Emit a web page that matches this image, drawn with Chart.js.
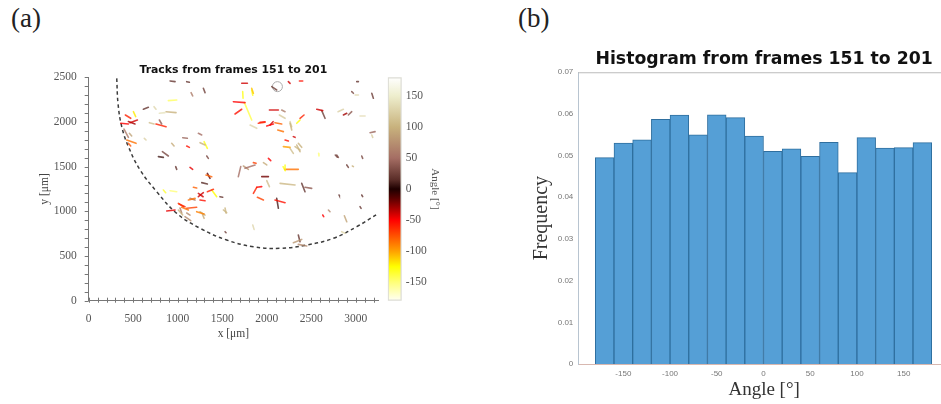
<!DOCTYPE html>
<html>
<head>
<meta charset="utf-8">
<script src="https://cdn.jsdelivr.net/npm/chart.js@4"></script>
<style>
  html, body { margin: 0; padding: 0; width: 941px; height: 404px; overflow: hidden; background: #fff; }
  canvas { position: absolute; filter: blur(0.55px); }
  .panel-label { position: absolute; top: 3px; font: 27px "Liberation Serif", serif; color: #222; }
</style>
</head>
<body>
<div class="panel-label" style="left:11px">(a)</div>
<div class="panel-label" style="left:518px">(b)</div>
<canvas id="tracks-chart" width="355" height="295" style="left:30px;top:55px"></canvas>
<canvas id="colorbar-chart" width="80" height="260" style="left:380px;top:60px"></canvas>
<canvas id="hist-chart" width="440" height="364" style="left:510px;top:40px"></canvas>

<script>
// histogram, 20 degree bins
const binCenters = [-170,-150,-130,-110,-90,-70,-50,-30,-10,10,30,50,70,90,110,130,150,170] ;
const binFrequency = [0.0495,0.0530,0.0538,0.0587,0.0597,0.0550,0.0598,0.0591,0.0547,0.0510,0.0516,0.0498,0.0532,0.0459,0.0543,0.0518,0.0519,0.0531] ;
const histXTicks = [-150,-100,-50,0,50,100,150] ;
const histYTicks = [0,0.01,0.02,0.03,0.04,0.05,0.06,0.07] ;

const trackX0 = [
  412,502,360,464,446,397,427,457,446,625,
  614,734,794,869,895,682,756,794,914,1101,
  1150,1288,1232,1056,932,1101,1251,1296,783,828,
  1326,977,1138,1318,1333,1270,1176,1333,1382,1232,
  1120,1007,876,1045,1101,1213,1277,1007,1082,1513,
  914,839,1475,1532,1843,1625,1644,1730,1719,1749,
  1831,1813,1906,2000,2093,2030,2168,2142,2124,2243,
  2367,2056,2374,2337,2262,2206,2299,2187,2262,2318,
  2355,2562,2618,2801,2917,2861,3048,3011,2955,2993,
  3180,3161,3180,2786,3067,2899,2962,1681,1756,1738,
  1850,1963,2019,2206,2206,1944,2000,1850,1888,1895,
  2093,2112,2150,2393,2430,2629,2693,2812,3067,2872,
  2842,2299,2355,2355,3048,2583,
  1015,1138,1232,1250,1250,1532,1026,1101,1831,1925,
  2037,2262,2337,2184,2770] ;
const trackY0 = [
  2078,2115,1985,1992,2004,1921,1798,1873,1761,1817,
  2142,2171,2097,2115,2239,1992,1977,2022,2459,2451,
  2328,2377,1873,1824,1761,1731,1768,1780,1612,1668,
  1619,1500,1492,1407,1425,1321,1269,1220,1239,1164,
  1127,1089,1004,1045,1034,996,970,1015,940,1015,
  1231,1239,1164,772,847,2227,2089,2339,2433,2216,
  2377,1966,1985,1955,1992,2134,2134,2078,1910,2451,
  2459,2395,2041,1985,1985,1798,1836,1724,1705,1724,
  1761,2142,2127,2115,2078,2078,2067,2451,2339,2302,
  2321,1880,1854,1630,1619,1519,1507,1388,1481,1507,
  1545,1545,1593,1519,1470,1388,1343,1201,1269,1157,
  1127,1146,1313,1313,1269,959,1015,1183,1183,951,
  772,649,735,630,1052,1649,
  1082,1145,1201,1126,995,1037,1037,981,2357,1996,
  1965,2003,1742,1499,1630] ;
const trackX1 = [
  472,528,446,547,520,446,532,483,472,644,
  670,756,858,981,989,734,869,820,970,1131,
  1168,1307,1270,1108,959,1131,1307,1333,839,895,
  1344,989,1168,1382,1363,1333,1213,1401,1438,1288,
  1195,1064,970,1120,1213,1296,1296,1056,1146,1550,
  989,865,1505,1543,1858,1756,1719,1734,1783,1831,
  1850,1888,1981,2075,2168,2131,2206,2206,2187,2262,
  2404,2112,2419,2374,2281,2243,2318,2262,2299,2374,
  2393,2629,2655,2861,2955,2899,3105,3030,2974,3030,
  3198,3217,3191,2805,3078,2917,2974,1708,1869,1794,
  1880,2000,2045,2206,2355,2019,2030,1888,1944,1963,
  2206,2131,2318,2430,2505,2640,2711,2816,3078,2899,
  2880,2393,2374,2449,3060,2587,
  1082,1194,1285,1307,1307,1543,1045,1138,1843,1981,
  2071,2281,2374,2207,2793] ;
const trackY1 = [
  2041,2060,1977,2022,1977,1828,1761,1843,1731,1798,
  2164,2142,2104,2104,2246,1977,1947,1977,2451,2444,
  2291,2328,1854,1817,1731,1716,1742,1705,1604,1619,
  1593,1470,1470,1388,1369,1306,1261,1246,1164,1209,
  1145,1052,1015,1015,1045,970,922,959,895,985,
  1220,1209,1157,761,798,2216,2142,2265,2433,2022,
  2321,1929,1996,1977,1977,2134,2115,2041,1892,2432,
  2459,2358,2078,2022,1910,1787,1828,1716,1649,1686,
  1716,2127,2041,2142,2115,2097,2067,2451,2321,2302,
  2265,1892,1828,1604,1593,1492,1500,1500,1519,1470,
  1537,1519,1567,1463,1470,1388,1276,1269,1276,1127,
  1097,1034,1295,1220,1257,940,996,1175,1164,884,
  754,686,660,612,1033,1619,
  1052,1126,1163,1118,958,981,981,958,2300,2003,
  2003,1946,1667,1454,1607] ;
const trackAngle = [
  -60,-120,-50,-40,-30,60,-85,90,-75,125,
  20,130,140,100,-145,110,-60,40,20,20,
  60,25,50,45,95,-55,100,-130,10,30,
  30,20,-45,-80,-15,15,-80,-60,-125,-40,
  -85,-65,-45,-85,-70,-90,95,100,70,105,
  -150,-135,20,25,130,-50,-55,-130,-40,-140,
  -110,130,-60,-50,-80,-40,60,120,-85,-40,
  -55,25,-60,-125,100,-55,-40,-100,110,105,
  100,-40,25,125,40,-30,135,20,30,130,
  25,45,120,30,30,25,100,50,50,80,
  -70,95,-50,-130,-85,-20,110,-60,-50,-70,
  -55,10,105,20,40,-50,70,20,20,90,
  130,80,20,70,20,-150,
  -60,60,-40,-55,100,105,60,70,-130,-55,
  -40,120,100,-130,25] ;

// dashed boundary of the plate
const arcX = [315,330,371,446,577,764,989,1251,1550,1850,2150,2449,2749,3011,3254] ;
const arcY = [2488,2200,1948,1724,1463,1220,977,810,679,604,586,623,698,828,977] ;

// the small open ring near the top
const ringX = [2120] ;
const ringY = [2395] ;

const tracksXTicks = [0,500,1000,1500,2000,2500,3000] ;
const tracksYTicks = [0,500,1000,1500,2000,2500] ;

// colorbar
const colorbarRange = [-180,180] ;
const colorbarTicks = [-150,-100,-50,0,50,100,150] ;
const colorStops = [-180,-150,-125,-100,-50,-15,0,15,50,100,150,180] ;
const colorValues = [
  [255,255,245],[255,255,120],[255,255,0],[255,160,0],[255,0,0],[90,0,0],
  [30,0,0],[90,45,40],[165,110,100],[200,178,125],[238,238,205],[255,255,255]] ;

const serif = '"Liberation Serif", serif' ;
const sans = '"Liberation Sans", sans-serif' ;
const axisGray = "#777" ;

const angleColor = (angle, alpha = 1) => {
  let i = 0 ;
  while (i < colorStops.length - 2 && angle > colorStops[i + 1]) i++ ;
  const t = (angle - colorStops[i]) / (colorStops[i + 1] - colorStops[i]) ;
  const rgb = colorValues[i].map((c, k) => Math.round(c + (colorValues[i + 1][k] - c) * t)) ;
  return `rgba(${rgb[0]},${rgb[1]},${rgb[2]},${alpha})` ;
} ;

const useTicks = (values) => (axis) => {
  axis.ticks = values.map((value) => ({ value })) ;
} ;

const plainLabel = (value) => String(value) ;

// ---- panel (a), tracks ----

// matlab style minor ticks every 100 um, placed through the scales
const minorTicks = {
  id: "minorTicks",
  afterDatasetsDraw(chart) {
    const { ctx, scales } = chart ;
    ctx.save() ;
    ctx.strokeStyle = axisGray ;
    ctx.lineWidth = 1 ;
    ctx.beginPath() ;
    for (let v = 0 ; v <= 3200 ; v += 100) {
      const px = Math.round(scales.x.getPixelForValue(v)) + 0.5 ;
      ctx.moveTo(px, scales.x.top - 3) ;
      ctx.lineTo(px, scales.x.top + 2) ;
    }
    for (let v = 0 ; v <= 2500 ; v += 100) {
      const py = Math.round(scales.y.getPixelForValue(v)) + 0.5 ;
      ctx.moveTo(scales.y.right - 4, py) ;
      ctx.lineTo(scales.y.right, py) ;
    }
    ctx.stroke() ;
    ctx.restore() ;
  }
} ;

const trackDatasets = trackAngle.map((angle, i) => ({
  data: [{ x: trackX0[i], y: trackY0[i] }, { x: trackX1[i], y: trackY1[i] }],
  borderColor: angleColor(angle, 0.8),
  borderWidth: 1.6,
  borderCapStyle: "round",
  showLine: true,
  pointRadius: 0
})) ;

new Chart(document.getElementById("tracks-chart"), {
  type: "scatter",
  data: {
    datasets: [
      ...trackDatasets,
      {
        data: ringX.map((x, i) => ({ x, y: ringY[i] })),
        pointRadius: 5,
        pointBackgroundColor: "rgba(0,0,0,0)",
        pointBorderColor: "#aaa",
        pointBorderWidth: 1
      },
      {
        data: arcX.map((x, i) => ({ x, y: arcY[i] })),
        showLine: true,
        tension: 0.4,
        pointRadius: 0,
        borderColor: "#3c3c3c",
        borderWidth: 1.5,
        borderDash: [3.5, 3]
      }
    ]
  },
  options: {
    responsive: false,
    animation: false,
    layout: { padding: { right: 7 } },
    plugins: {
      legend: { display: false },
      tooltip: { enabled: false },
      title: {
        display: true,
        text: "Tracks from frames 151 to 201",
        fullSize: false,
        color: "#111",
        font: { family: '"DejaVu Sans", sans-serif', size: 10.9, weight: "bold" },
        padding: { top: 8.3, bottom: 0.9 }
      }
    },
    scales: {
      x: {
        min: 0,
        max: 3250,
        afterBuildTicks: useTicks(tracksXTicks),
        afterFit: (axis) => { axis.height = 49.3 ; },
        grid: { display: false, drawTicks: true, tickLength: 6, tickColor: axisGray },
        border: { color: axisGray },
        ticks: { callback: plainLabel, color: "#555", font: { family: serif, size: 11.5 }, padding: 5, maxRotation: 0, autoSkip: false },
        title: { display: true, text: "x [μm]", color: "#444", font: { family: serif, size: 11.5 }, padding: { top: 0, bottom: 9 } }
      },
      y: {
        min: 0,
        max: 2500,
        afterBuildTicks: useTicks(tracksYTicks),
        afterFit: (axis) => { axis.width = 58.7 ; },
        grid: { display: false, drawTicks: true, tickLength: 8, tickColor: axisGray },
        border: { color: axisGray },
        ticks: { callback: plainLabel, color: "#555", font: { family: serif, size: 11.5 }, padding: 4, autoSkip: false },
        title: { display: true, text: "y [μm]", color: "#444", font: { family: serif, size: 11.5 }, padding: { top: 8, bottom: 0 } }
      }
    }
  },
  plugins: [minorTicks]
}) ;

// ---- colorbar, a single floating bar with a gradient fill ----

const colorbarFill = (context) => {
  const { chart } = context ;
  const scale = chart.scales.y ;
  if (!chart.chartArea || !scale) return "#888" ;
  const gradient = chart.ctx.createLinearGradient(0, scale.getPixelForValue(colorbarRange[0]), 0, scale.getPixelForValue(colorbarRange[1])) ;
  colorStops.forEach((stop) => {
    gradient.addColorStop((stop - colorbarRange[0]) / (colorbarRange[1] - colorbarRange[0]), angleColor(stop)) ;
  }) ;
  return gradient ;
} ;

new Chart(document.getElementById("colorbar-chart"), {
  type: "bar",
  data: {
    labels: ["Angle"],
    datasets: [{
      data: [colorbarRange],
      backgroundColor: colorbarFill,
      borderColor: "#dcdcd4",
      borderWidth: 1.5,
      borderSkipped: false,
      barPercentage: 1,
      categoryPercentage: 1
    }]
  },
  options: {
    responsive: false,
    animation: false,
    layout: { padding: { left: 7.7, top: 17.3, bottom: 19.3 } },
    plugins: { legend: { display: false }, tooltip: { enabled: false } },
    scales: {
      x: { display: false },
      y: {
        position: "right",
        min: colorbarRange[0],
        max: colorbarRange[1],
        afterBuildTicks: useTicks(colorbarTicks),
        afterFit: (axis) => { axis.width = 58.3 ; },
        grid: { display: false, drawTicks: false },
        border: { display: false },
        ticks: { color: "#555", font: { family: serif, size: 11.5 }, padding: 4, autoSkip: false },
        title: { display: true, text: "Angle [°]", color: "#555", font: { family: serif, size: 11 }, padding: { top: 18.4, bottom: 0 } }
      }
    }
  }
}) ;

// ---- panel (b), histogram ----

const topFrame = {
  id: "topFrame",
  afterDraw(chart) {
    const { ctx, chartArea } = chart ;
    ctx.save() ;
    ctx.strokeStyle = "#bbb" ;
    ctx.beginPath() ;
    ctx.moveTo(chartArea.left, chartArea.top + 0.5) ;
    ctx.lineTo(chartArea.right, chartArea.top + 0.5) ;
    ctx.stroke() ;
    ctx.restore() ;
  }
} ;

new Chart(document.getElementById("hist-chart"), {
  type: "bar",
  data: {
    datasets: [{
      data: binCenters.map((x, i) => ({ x, y: binFrequency[i] })),
      backgroundColor: "#559fd6",
      borderColor: "#2f6f9f",
      borderWidth: 1,
      barPercentage: 1,
      categoryPercentage: 1
    }]
  },
  options: {
    responsive: false,
    animation: false,
    plugins: {
      legend: { display: false },
      tooltip: { enabled: false },
      title: {
        display: true,
        text: "Histogram from frames 151 to 201",
        fullSize: false,
        color: "#111",
        font: { family: '"DejaVu Sans", sans-serif', size: 17.3, weight: "bold" },
        padding: { top: 9.4, bottom: 2.1 }
      }
    },
    scales: {
      x: {
        type: "linear",
        offset: false,
        min: -198.2,
        max: 199.6,
        afterBuildTicks: useTicks(histXTicks),
        afterFit: (axis) => { axis.height = 40 ; },
        grid: { display: false, drawTicks: false },
        border: { color: "#d8b8b0" },
        ticks: { color: "#777", font: { family: sans, size: 8 }, padding: 5, maxRotation: 0, autoSkip: false },
        title: { display: true, text: "Angle [°]", color: "#333", font: { family: serif, size: 19 }, padding: { top: 0, bottom: 3 } }
      },
      y: {
        min: 0,
        max: 0.07,
        afterBuildTicks: useTicks(histYTicks),
        afterFit: (axis) => { axis.width = 68.3 ; },
        grid: { display: false, drawTicks: false },
        border: { color: "#b8c4d0" },
        ticks: { color: "#777", font: { family: sans, size: 8 }, padding: 5, autoSkip: false },
        title: { display: true, text: "Frequency", color: "#333", font: { family: serif, size: 20 }, padding: { top: 20, bottom: 0 } }
      }
    }
  },
  plugins: [topFrame]
}) ;
</script>
</body>
</html>
